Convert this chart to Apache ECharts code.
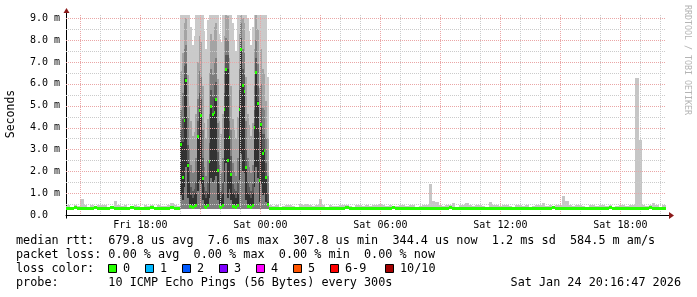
<!DOCTYPE html>
<html><head><meta charset="utf-8">
<script src="https://cdn.jsdelivr.net/npm/echarts@6/dist/echarts.min.js"></script>
<style>html,body{margin:0;padding:0;background:#fff}#c{width:697px;height:297px}</style>
</head><body><div id="c"></div>
<script>
// ---- time domain (hours since Fri 00:00) ----
const axisStart = 14 + 16/60 + 47/3600;   // Fri 14:16:47
const axisSpan = 30;                      // hours shown
const xLabelHours = [18, 24, 30, 36, 42];
const xLabelTexts = ['Fri 18:00', 'Sat 00:00', 'Sat 06:00', 'Sat 12:00', 'Sat 18:00'];
const yMax = 9.15;                        // ms

// ---- data (values in ms) ----
const baseFloor = 0.28;                   // lowest ping of the smoke
// before the disturbance: 10-minute samples from Fri 14:10
const preStart = 14 + 10/60, preStep = 10/60;
const preMed = [0.33,0.34,0.33,0.35,0.34,0.33,0.34,0.33,0.34,0.35,0.33,0.34,0.33,0.34,0.35,0.33,0.34,0.33,0.33,0.34,0.35,0.34,0.33,0.34,0.33,0.34,0.35,0.33,0.34,0.33,0.34,0.33,0.35,0.34,0.33];
const preHi  = [0.40,0.45,0.38,0.46,0.39,0.72,0.47,0.38,0.44,0.39,0.46,0.48,0.45,0.38,0.40,0.65,0.47,0.39,0.45,0.38,0.40,0.46,0.39,0.38,0.47,0.40,0.45,0.38,0.46,0.39,0.40,0.47,0.53,0.48,0.39];

// disturbance: 5-minute samples from Fri 20:00 (sorted pings: p5 bottom of dark bands, p6..p10 band tops)
const spikeStart = 20, spikeStep = 5/60;
const spikeMed = [3.25,1.75,4.35,6.17,2.28, 0.42,0.40,0.38,0.40,0.45, 3.60,4.80,4.57,1.70, 0.40,0.38,0.45, 2.48,4.98,4.60,4.72,5.29,2.06, 0.40,0.38,0.45, 4.83,6.66,2.51,3.58,1.87, 0.42,0.40,0.38,0.45, 4.86,7.59,5.94,5.67,2.21, 0.42,0.40,0.38,0.45, 4.04,6.55,5.13,1.60,4.16,2.82,2.97,1.72,0.50];
const spikeP5  = [0.9,0.7,1.3,2.2,0.8, 0.5,0.45,0.45,0.45,0.5, 1.1,1.6,1.4,0.7, 0.45,0.45,0.5, 0.8,1.7,1.5,1.6,1.8,0.7, 0.5,0.45,0.5, 1.5,2.4,0.8,1.2,0.7, 0.5,0.45,0.45,0.5, 1.6,2.8,2.0,1.9,0.7, 0.5,0.45,0.45,0.5, 1.3,2.2,1.7,0.6,1.4,0.9,1.0,0.6,0.4];
const spikeP6  = [3.35,3.35,6.25,6.25,2.40, 1.45,0.90,0.80,0.90,1.00, 3.65,4.90,4.65,1.80, 0.90,0.80,1.00, 2.50,5.00,4.65,5.30,5.30,2.10, 1.00,0.80,1.00, 4.90,6.70,6.70,3.60,1.90, 1.00,0.90,0.80,1.00, 4.95,7.60,6.00,5.70,2.25, 1.00,0.90,0.80,1.00, 4.10,6.60,5.20,1.70,4.20,3.00,3.00,1.75,0.60];
const spikeP7  = [3.9,4.4,6.8,6.9,3.2, 2.0,1.3,1.1,1.2,1.5, 4.3,5.6,5.3,2.6, 1.3,1.1,1.5, 3.3,5.7,5.4,6.0,6.1,2.9, 1.4,1.1,1.5, 5.6,7.3,7.3,4.3,2.7, 1.4,1.2,1.1,1.5, 5.7,8.1,6.7,6.4,3.0, 1.5,1.3,1.1,1.4, 4.8,7.2,5.9,2.5,4.9,3.7,3.7,2.4,1.0];
const spikeP8  = [4.8,5.6,7.6,7.8,4.5, 3.0,2.3,1.9,2.0,2.6, 5.3,6.6,6.3,3.9, 2.2,1.8,2.5, 4.6,6.7,6.4,7.0,7.2,4.2, 2.3,1.9,2.6, 6.6,8.1,8.0,5.5,3.9, 2.4,2.0,1.8,2.6, 6.7,8.8,7.6,7.4,4.3, 2.6,2.2,1.9,2.3, 5.9,8.0,6.9,3.8,6.0,4.9,4.8,3.5,1.8];
const spikeP9  = [6.6,7.4,8.8,9.0,6.4, 5.0,4.3,3.6,3.8,4.6, 7.0,8.2,7.9,5.9, 4.2,3.5,4.4, 6.5,8.3,8.0,8.6,8.8,6.2, 4.3,3.7,4.6, 8.2,9.2,9.1,7.2,5.9, 4.4,3.9,3.5,4.5, 8.3,9.5,9.0,8.8,6.3, 4.6,4.1,3.6,4.2, 7.6,9.2,8.5,5.8,7.6,6.7,6.5,5.2,3.5];
const spikeP10 = [9.5,9.5,9.5,9.5,9.5, 9.5,8.6,7.8,8.2,9.5, 9.5,9.5,9.5,9.5, 8.4,7.6,8.9, 9.5,9.5,9.5,9.5,9.5,9.5, 8.3,7.9,9.5, 9.5,9.5,9.5,9.5,9.5, 8.8,8.0,7.5,9.5, 9.5,9.5,9.5,9.5,9.5, 9.0,8.4,7.8,8.6, 9.5,9.5,9.5,9.5,9.5,9.5,9.5,9.5,6.3];

// after the disturbance: 10-minute samples from Sat 00:25
const postStart = 24 + 25/60, postStep = 10/60;
const postMed = [
 0.33,0.34,0.32,0.32,0.31,0.32,0.33,0.34,0.33,0.32,
 0.31,0.32,0.33,0.34,0.33,0.32,0.31,0.32,0.33,0.34,
 0.34,0.33,0.34,0.35,0.34,0.33,0.34,0.33,0.32,0.33,
 0.34,0.33,0.34,0.33,0.32,0.33,0.34,0.35,0.34,0.33,
 0.33,0.34,0.33,0.32,0.33,0.34,0.33,0.34,0.33,0.32,
 0.33,0.34,0.33,0.34,0.35,0.34,0.33,0.32,0.33,0.34,
 0.33,0.32,0.31,0.32,0.33,0.34,0.33,0.34,0.33,0.34,
 0.34,0.33,0.32,0.33,0.34,0.33,0.34,0.33,0.32,0.33,
 0.34,0.33,0.34,0.33,0.34,0.35,0.34,0.33,0.34,0.33,
 0.33,0.34,0.33,0.34,0.33,0.32,0.33,0.34,0.33,0.34,
 0.33,0.34,0.35,0.34,0.33,0.34,0.33,0.34,0.33,0.34,
 0.33,0.34,0.33,0.34,0.35,0.34,0.33,0.34,0.34,0.34];
const postHi = [
 0.46,0.39,0.45,0.38,0.40,0.46,0.45,0.39,0.38,0.50,
 0.48,0.50,0.47,0.39,0.45,0.72,0.46,0.38,0.45,0.39,
 0.40,0.46,0.45,0.47,0.39,0.38,0.45,0.46,0.40,0.45,
 0.39,0.46,0.45,0.50,0.47,0.39,0.45,0.38,0.40,0.46,
 0.45,0.39,0.46,0.45,0.38,0.40,0.47,0.45,1.42,0.62,
 0.58,0.45,0.39,0.46,0.45,0.53,0.38,0.45,0.46,0.53,
 0.45,0.39,0.46,0.45,0.40,0.38,0.58,0.47,0.45,0.39,
 0.46,0.45,0.39,0.38,0.45,0.46,0.40,0.45,0.38,0.39,
 0.45,0.46,0.55,0.39,0.45,0.38,0.46,0.45,0.87,0.64,
 0.45,0.39,0.46,0.45,0.40,0.38,0.45,0.46,0.39,0.45,
 0.46,0.39,0.45,0.38,0.40,0.46,0.45,0.39,0.45,0.46,
 6.28,3.43,0.45,0.39,0.46,0.55,0.45,0.38,0.46,0.45];

// legend content
const statLines = [
  'median rtt:  679.8 us avg  7.6 ms max  307.8 us min  344.4 us now  1.2 ms sd  584.5 m am/s',
  'packet loss: 0.00 % avg  0.00 % max  0.00 % min  0.00 % now'
];
const lossLabels = ['0', '1', '2', '3', '4', '5', '6-9', '10/10'];
const lossColors = ['#26ff00', '#00b8ff', '#0059ff', '#7e00ff', '#ff00ff', '#ff5500', '#ff0000', '#a10000'];
const probeText = 'probe:       10 ICMP Echo Pings (56 Bytes) every 300s';
const stampText = 'Sat Jan 24 20:16:47 2026';

// ---- styling ----
const MONO = 'DejaVu Sans Mono';
const smokeColors = ['#c6c6c6', '#cacaca', '#a4a4a4', '#7e7e7e', '#585858', '#323232'];
const legendSquareX = [108, 145, 182, 219, 256, 293, 330, 385];

// ---- build item lists ----
const smokeItems = [];
const medItems = [];
function addSeg(start, step, med, hi) {
  for (let k = 0; k < med.length; k++) {
    const t0 = start + k * step, t1 = t0 + step;
    smokeItems.push([t0, t1, baseFloor, hi[k], 0]);
    medItems.push([t0, t1, med[k], 0]);
  }
}
addSeg(preStart, preStep, preMed, preHi);
addSeg(postStart, postStep, postMed, postHi);
const bandTops = [spikeP10, spikeP9, spikeP8, spikeP7, spikeP6];
bandTops.forEach((arr, b) => {
  for (let k = 0; k < arr.length; k++) {
    const t0 = spikeStart + k * spikeStep;
    const lo = b >= bandTops.length - 2 ? spikeP5[k] : baseFloor;
    smokeItems.push([t0, t0 + spikeStep, lo, arr[k], b + 1]);
  }
});
for (let k = 0; k < spikeMed.length; k++) {
  const t0 = spikeStart + k * spikeStep;
  medItems.push([t0, t0 + spikeStep, spikeMed[k], 0]);
}
// grid lines: [kind(0 = time, 1 = value), position, major]
const gridItems = [];
for (let h = Math.ceil(axisStart); h <= axisStart + axisSpan; h++) gridItems.push([0, h, h % 3 === 0 ? 1 : 0]);
for (let q = 1; q <= 18; q++) gridItems.push([1, q / 2, q % 2 === 0 ? 1 : 0]);

function clipTo(params, r) {
  const c = params.coordSys;
  return echarts.graphic.clipRectByRect(r, {x: c.x, y: c.y, width: c.width, height: c.height});
}
function renderSmoke(params, api) {
  const a = api.coord([api.value(0), api.value(3)]);
  const b = api.coord([api.value(1), api.value(2)]);
  const x0 = Math.round(a[0]), x1 = Math.round(b[0]);
  const y0 = Math.round(a[1]), y1 = Math.round(b[1]);
  const shape = clipTo(params, {x: x0, y: y0, width: x1 - x0, height: y1 - y0});
  if (!shape) return;
  const ci = api.value(4);
  return {type: 'rect', shape: shape, z2: ci, style: {fill: smokeColors[ci]}};
}
function renderMedian(params, api) {
  const a = api.coord([api.value(0), api.value(2)]);
  const b = api.coord([api.value(1), api.value(2)]);
  const x0 = Math.round(a[0]), x1 = Math.round(b[0]);
  const yc = Math.round(a[1]);
  const shape = clipTo(params, {x: x0, y: yc - 1, width: x1 - x0, height: 3});
  if (!shape) return;
  return {type: 'rect', shape: shape, z2: 100, style: {fill: lossColors[api.value(3)]}};
}
function renderGrid(params, api) {
  const c = params.coordSys;
  const kind = api.value(0), v = api.value(1), major = api.value(2);
  let shape;
  if (kind === 0) {
    const x = Math.round(api.coord([v, 0])[0]) + 0.5;
    shape = {x1: x, y1: c.y, x2: x, y2: c.y + c.height};
  } else {
    const y = Math.round(api.coord([axisStart, v])[1]) + 0.5;
    shape = {x1: c.x, y1: y, x2: c.x + c.width, y2: y};
  }
  return {type: 'line', shape: shape,
    style: {stroke: major ? '#eaa6a6' : '#cbcbcb', lineWidth: 1, lineDash: [1, 1]}};
}

const chart = echarts.init(document.getElementById('c'), null, {renderer: 'canvas'});
const option = {
  animation: false,
  backgroundColor: '#ffffff',
  grid: {left: 66, top: 15, width: 600, height: 200, containLabel: false},
  xAxis: {
    type: 'value', min: axisStart, max: axisStart + axisSpan,
    axisLine: {show: true, lineStyle: {color: '#000', width: 1}},
    axisTick: {show: false},
    splitLine: {show: false},
    axisLabel: {
      customValues: xLabelHours,
      formatter: v => { const i = xLabelHours.indexOf(v); return i >= 0 ? xLabelTexts[i] : ''; },
      fontFamily: MONO, fontSize: 10, color: '#000', margin: 5
    }
  },
  yAxis: {
    type: 'value', min: 0, max: yMax, interval: 1,
    axisLine: {show: true, lineStyle: {color: '#000', width: 1}},
    axisTick: {show: false},
    splitLine: {show: false},
    axisLabel: {
      formatter: v => (Math.abs(v - Math.round(v)) > 1e-6 ? '' : (v === 0 ? '0.0' : v.toFixed(1) + ' m')),
      fontFamily: MONO, fontSize: 10, color: '#000', margin: 36, align: 'left'
    }
  },
  series: [
    {type: 'custom', name: 'smoke', renderItem: renderSmoke, data: smokeItems, z: 2, silent: true, progressive: 0},
    {type: 'custom', name: 'grid', renderItem: renderGrid, data: gridItems, z: 5, silent: true, progressive: 0},
    {type: 'custom', name: 'median', renderItem: renderMedian, data: medItems, z: 20, silent: true, progressive: 0}
  ]
};
chart.setOption(option);

// decorations: arrows, axis title, watermark, legend
const origin = chart.convertToPixel({gridIndex: 0}, [axisStart, 0]);
const corner = chart.convertToPixel({gridIndex: 0}, [axisStart + axisSpan, yMax]);
const ox = Math.round(origin[0]) + 0.5, oy = Math.round(origin[1]) + 0.5;
const rx = Math.round(corner[0]), ty = Math.round(corner[1]);
const g = [];
g.push({type: 'line', shape: {x1: rx, y1: oy, x2: rx + 3, y2: oy}, style: {stroke: '#000', lineWidth: 1}});
g.push({type: 'polygon', shape: {points: [[rx + 3, oy - 3.5], [rx + 8, oy], [rx + 3, oy + 3.5]]}, style: {fill: '#8b1a1a'}});
g.push({type: 'line', shape: {x1: ox, y1: ty, x2: ox, y2: ty - 2}, style: {stroke: '#000', lineWidth: 1}});
g.push({type: 'line', shape: {x1: ox, y1: oy, x2: ox, y2: oy + 3}, style: {stroke: '#000', lineWidth: 1}});
g.push({type: 'polygon', shape: {points: [[ox - 3, ty - 2], [ox, ty - 7], [ox + 3, ty - 2]]}, style: {fill: '#8b1a1a'}});
g.push({type: 'text', x: 11, y: 114, rotation: Math.PI / 2,
  style: {text: 'Seconds', font: '11.5px ' + MONO, fill: '#000', align: 'center', verticalAlign: 'middle'}});
g.push({type: 'text', x: 687, y: 5, rotation: -Math.PI / 2,
  style: {text: 'RRDTOOL / TOBI OETIKER', font: '8.3px ' + MONO, fill: '#b4b4b4', align: 'left', verticalAlign: 'middle'}});
const rowY = [241, 255, 269, 283];
const legFont = '11.8px ' + MONO;
statLines.forEach((s, i) => g.push({type: 'text', x: 16, y: rowY[i],
  style: {text: s, font: legFont, fill: '#000', align: 'left', verticalAlign: 'middle'}}));
g.push({type: 'text', x: 16, y: rowY[2], style: {text: 'loss color:', font: legFont, fill: '#000', align: 'left', verticalAlign: 'middle'}});
lossLabels.forEach((lab, i) => {
  const sx = legendSquareX[i];
  g.push({type: 'rect', shape: {x: sx + 0.5, y: rowY[2] - 4.5, width: 8, height: 8},
    style: {fill: lossColors[i], stroke: '#000', lineWidth: 1}});
  g.push({type: 'text', x: sx + 15, y: rowY[2],
    style: {text: lab, font: legFont, fill: '#000', align: 'left', verticalAlign: 'middle'}});
});
g.push({type: 'text', x: 16, y: rowY[3], style: {text: probeText, font: legFont, fill: '#000', align: 'left', verticalAlign: 'middle'}});
g.push({type: 'text', x: 681, y: rowY[3], style: {text: stampText, font: legFont, fill: '#000', align: 'right', verticalAlign: 'middle'}});
chart.setOption({graphic: {elements: g.map(e => Object.assign({silent: true, z: 100}, e))}});
</script>
</body></html>
